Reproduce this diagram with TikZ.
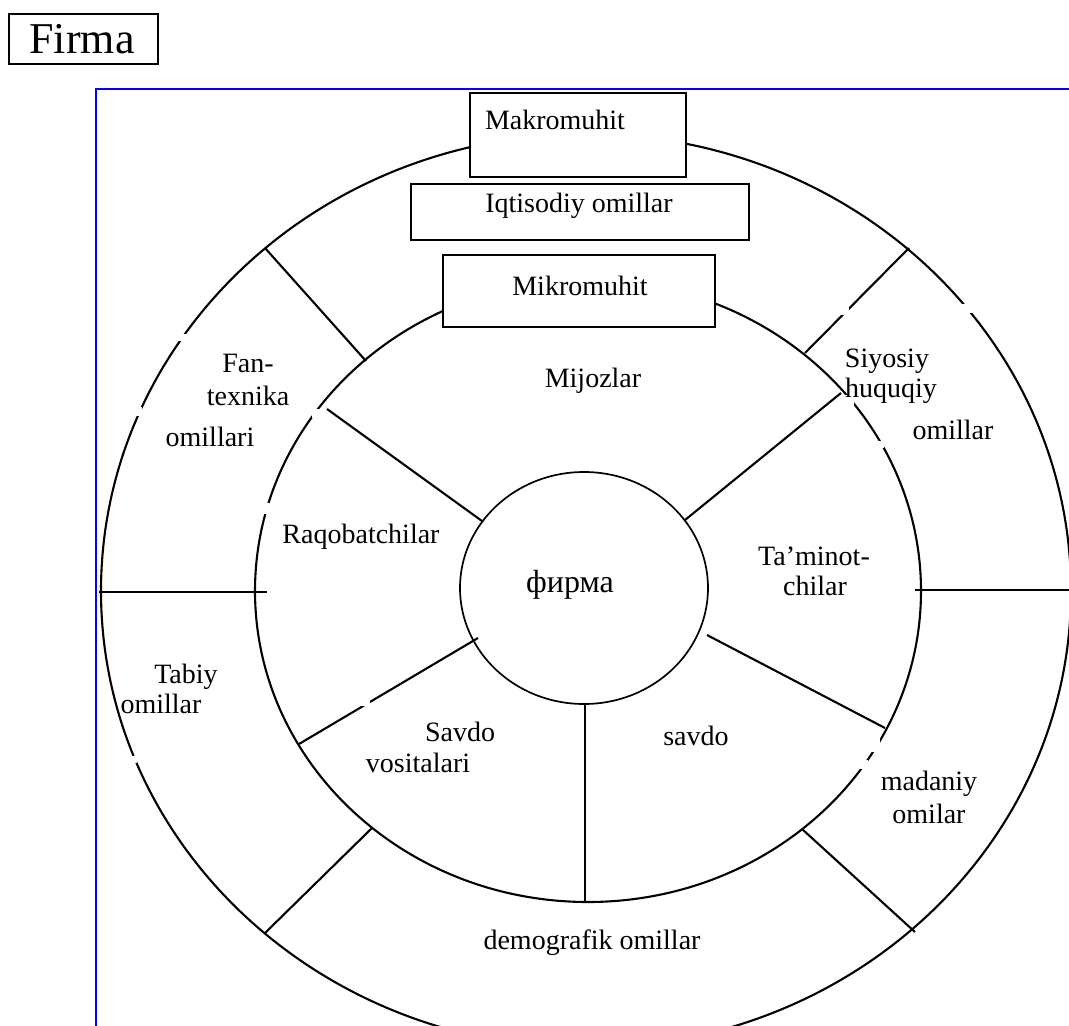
\documentclass[tikz,border=0pt]{standalone}
\usepackage{fontspec}
\setmainfont{Liberation Serif}
\usepackage{xcolor}
\usepackage{tikz}
\usetikzlibrary{positioning}
\definecolor{frameblue}{RGB}{0,0,255}

\begin{document}
\begin{tikzpicture}[x=1pt, y=-1pt,
    ring/.style={line width=2.1pt},
    spoke/.style={line width=2.1pt},
    gap/.style={fill=white},
    box/.style={draw, line width=1.6pt, fill=white, anchor=north west, inner sep=0pt},
    lbl/.style={anchor=base, inner sep=0pt, font=\fontsize{28}{32}\selectfont}]
  \clip (0,0) rectangle (1069,1026);

  % title and blue frame
  \node[box, line width=1.9pt, minimum width=149pt, minimum height=50pt] (firmabox) at (8,13) {};
  \node[anchor=base, inner sep=0pt, font=\fontsize{44}{50}\selectfont] (firma) at (82,53) {Firma};
  \draw[frameblue, line width=1.8pt] (96,1026) -- (96,89) -- (1069,89);

  % rings
  \draw[ring] (586,591) ellipse [x radius=485pt, y radius=457pt];
  \draw[ring] (588,591) ellipse [x radius=333pt, y radius=311pt];
  \draw[line width=1.7pt] (584,588) ellipse [x radius=124pt, y radius=116pt];

  % outer ring spokes
  \coordinate (o1) at (265,248); \coordinate (m1) at (366,361);
  \coordinate (o2) at (909,248); \coordinate (m2) at (805,353);
  \coordinate (o3) at (99,592);  \coordinate (m3) at (267,592);
  \coordinate (o4) at (1069,590); \coordinate (m4) at (915,590);
  \coordinate (o5) at (265,933); \coordinate (m5) at (372,828);
  \coordinate (o6) at (915,932); \coordinate (m6) at (802,829);
  \foreach \i in {1,...,6}
    \draw[spoke] (o\i) -- (m\i);

  % inner ring spokes
  \coordinate (n1) at (327,409); \coordinate (k1) at (482,521);
  \coordinate (n2) at (841,393); \coordinate (k2) at (685,520);
  \coordinate (n3) at (299,744); \coordinate (k3) at (478,638);
  \coordinate (n4) at (585,903); \coordinate (k4) at (585,703);
  \coordinate (n5) at (885,728); \coordinate (k5) at (707,635);
  \foreach \i in {1,...,5}
    \draw[spoke] (n\i) -- (k\i);

  % breaks left in the lines
  \fill[gap] (843,395) rectangle (854,407);
  \fill[gap] (877,441) rectangle (884,448);
  \fill[gap] (960,304) rectangle (977,313);
  \fill[gap] (841,307) rectangle (849,315);
  \fill[gap] (178,334) rectangle (186,341);
  \fill[gap] (134,407) rectangle (142,416);
  \fill[gap] (262,503) rectangle (270,514);
  \fill[gap] (312,409) rectangle (319,418);
  \fill[gap] (361,698) rectangle (370,706);
  \fill[gap] (870,736) rectangle (880,752);
  \fill[gap] (860,760) rectangle (868,769);
  \fill[gap] (129,756) rectangle (137,763);

  % boxes on top
  \node[box, minimum width=216pt, minimum height=84pt] (makrobox) at (469,92) {};
  \node[box, minimum width=338pt, minimum height=56pt] (iqtbox) at (410,183) {};
  \node[box, minimum width=272pt, minimum height=72pt] (mikrobox) at (442,254) {};

  % labels
  \node[lbl] (makro) at (555,129) {Makromuhit};
  \node[lbl] (iqt) at (579,212) {Iqtisodiy omillar};
  \node[lbl] (mikro) at (580,295) {Mikromuhit};
  \node[lbl] (mijoz) at (593,387) {Mijozlar};
  \node[lbl] (fan1) at (248,372) {Fan-};
  \node[lbl] (fan2) at (248,405) {texnika};
  \node[lbl] (fan3) at (210,446) {omillari};
  \node[lbl] (raqob) at (361,543) {Raqobatchilar};
  \node[lbl, font=\fontsize{32}{36}\selectfont] (firm) at (570,592) {фирма};
  \node[lbl] (siy1) at (887,367) {Siyosiy};
  \node[lbl] (siy2) at (891,397) {huquqiy};
  \node[lbl] (siy3) at (953,439) {omillar};
  \node[lbl] (tam1) at (814,565) {Ta’minot-};
  \node[lbl] (tam2) at (815,595) {chilar};
  \node[lbl] (tab1) at (186,683) {Tabiy};
  \node[lbl] (tab2) at (161,713) {omillar};
  \node[lbl] (sav1) at (460,741) {Savdo};
  \node[lbl] (sav2) at (418,772) {vositalari};
  \node[lbl] (savdo) at (696,745) {savdo};
  \node[lbl] (mad1) at (929,790) {madaniy};
  \node[lbl] (mad2) at (929,823) {omilar};
  \node[lbl] (demo) at (592,949) {demografik omillar};
\end{tikzpicture}
\end{document}
